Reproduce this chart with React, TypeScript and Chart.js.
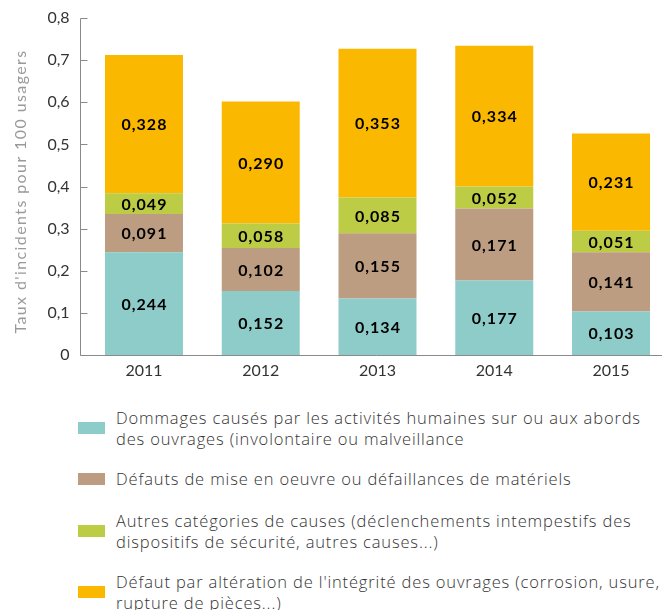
import React, { useEffect, useRef } from "react";
import { Chart, registerables } from "chart.js";

Chart.register(...registerables);

const years = ["2011", "2012", "2013", "2014", "2015"];
const dommages = [0.244, 0.152, 0.134, 0.177, 0.103];
const defautsMise = [0.091, 0.102, 0.155, 0.171, 0.141];
const autres = [0.049, 0.058, 0.085, 0.052, 0.051];
const alteration = [0.328, 0.29, 0.353, 0.334, 0.231];

const seriesNames = [
  ["Dommages causés par les activités humaines sur ou aux abords", "des ouvrages (involontaire ou malveillance"],
  ["Défauts de mise en oeuvre ou défaillances de matériels"],
  ["Autres catégories de causes (déclenchements intempestifs des", "dispositifs de sécurité, autres causes...)"],
  ["Défaut par altération de l'intégrité des ouvrages (corrosion, usure,", "rupture de pièces...)"],
];
const colors = ["#8ECCCA", "#BD9D81", "#BCCC45", "#FBB800"];
const yTicks = [0, 0.1, 0.2, 0.3, 0.4, 0.5, 0.6, 0.7, 0.8];
const yTitle = "Taux d'incidents pour 100 usagers";

const fmt = (v: number, d: number) => (v === 0 ? "0" : v.toFixed(d).replace(".", ","));

const axesPlugin = {
  id: "customAxes",
  afterDraw(chart: any) {
    const { ctx, chartArea } = chart;
    const ys = chart.scales.y;
    const x0 = Math.round(chartArea.left - 6) + 0.5;
    const yBottom = Math.round(ys.getPixelForValue(0)) + 0.5;
    ctx.save();
    ctx.strokeStyle = "#8a8a8a";
    ctx.lineWidth = 1;
    ctx.beginPath();
    ctx.moveTo(x0, Math.round(ys.getPixelForValue(yTicks[yTicks.length - 1])) + 0.5);
    ctx.lineTo(x0, yBottom);
    yTicks.forEach((t) => {
      const py = Math.round(ys.getPixelForValue(t)) + 0.5;
      ctx.moveTo(x0, py);
      ctx.lineTo(x0 + 7, py);
    });
    ctx.moveTo(x0, yBottom);
    ctx.lineTo(chart.width, yBottom);
    ctx.stroke();

    // y axis title
    ctx.translate(21, (chartArea.top + chartArea.bottom) / 2 + 5);
    ctx.rotate(-Math.PI / 2);
    ctx.font = "16px Lato";
    (ctx as any).letterSpacing = "1.4px";
    ctx.fillStyle = "#9a9a9a";
    ctx.textAlign = "center";
    ctx.textBaseline = "middle";
    ctx.fillText(yTitle, 0, 0);
    ctx.restore();
  },
};

const labelsPlugin = {
  id: "segLabels",
  afterDatasetsDraw(chart: any) {
    const { ctx } = chart;
    ctx.save();
    ctx.font = "bold 16px Lato";
    (ctx as any).letterSpacing = "1px";
    ctx.fillStyle = "#000";
    ctx.textAlign = "center";
    ctx.textBaseline = "middle";
    chart.data.datasets.forEach((ds: any, i: number) => {
      const meta = chart.getDatasetMeta(i);
      meta.data.forEach((el: any, j: number) => {
        const v = ds.data[j] as number;
        ctx.fillText(fmt(v, 3), el.x + 0.5, (el.y + el.base) / 2 + 1);
      });
    });
    ctx.restore();
  },
};

export default function App() {
  const ref = useRef<HTMLCanvasElement>(null);
  useEffect(() => {
    if (!ref.current) return;
    const data = [dommages, defautsMise, autres, alteration];
    const chart = new Chart(ref.current, {
      type: "bar",
      data: {
        labels: years,
        datasets: data.map((d, i) => ({
          label: seriesNames[i].join(" "),
          data: d,
          backgroundColor: colors[i],
          borderWidth: 0,
          categoryPercentage: 1,
          barPercentage: 0.668,
        })),
      },
      options: {
        responsive: false,
        animation: false,
        layout: { padding: { top: 18, right: 2.6, bottom: 0, left: 0 } },
        plugins: { legend: { display: false }, tooltip: { enabled: false } },
        scales: {
          x: {
            stacked: true,
            grid: { display: false, drawTicks: false },
            border: { display: false },
            ticks: { color: "#333", font: { family: "Lato", size: 16 }, padding: 6 },
            afterFit: (s: any) => {
              s.height = 40;
            },
          },
          y: {
            stacked: true,
            min: 0,
            max: 0.8,
            grid: { display: false, drawTicks: false },
            border: { display: false },
            ticks: {
              stepSize: 0.1,
              color: "#333",
              font: { family: "Lato", size: 16 },
              padding: 16,
              callback: (v: any) => fmt(Number(v), 1),
            },
            afterFit: (s: any) => {
              s.width = 85.6;
              s.paddingTop = 8;
              s.paddingBottom = 8;
            },
          },
        },
      },
      plugins: [axesPlugin, labelsPlugin],
    });
    return () => chart.destroy();
  }, []);

  const rowTops = [407, 468, 510, 571];
  return (
    <div style={{ position: "absolute", left: 0, top: 0, width: 662, height: 610, overflow: "hidden", background: "#fff" }}>
      <canvas ref={ref} width={672} height={395} style={{ position: "absolute", left: 0, top: 0 }} />
      {seriesNames.map((lines, i) => (
        <div
          key={i}
          style={{
            position: "absolute",
            left: 78,
            top: rowTops[i],
            display: "flex",
            alignItems: "center",
            fontFamily: "'Open Sans', sans-serif",
            fontWeight: 300,
            fontSize: 16.5,
            letterSpacing: "0.85px",
            lineHeight: "21px",
            color: "#333",
            whiteSpace: "nowrap",
          }}
        >
          <div style={{ width: 27, height: 12, background: colors[i], marginRight: 11, flexShrink: 0 }} />
          <div>
            {lines.map((l, k) => (
              <div key={k}>{l}</div>
            ))}
          </div>
        </div>
      ))}
    </div>
  );
}
